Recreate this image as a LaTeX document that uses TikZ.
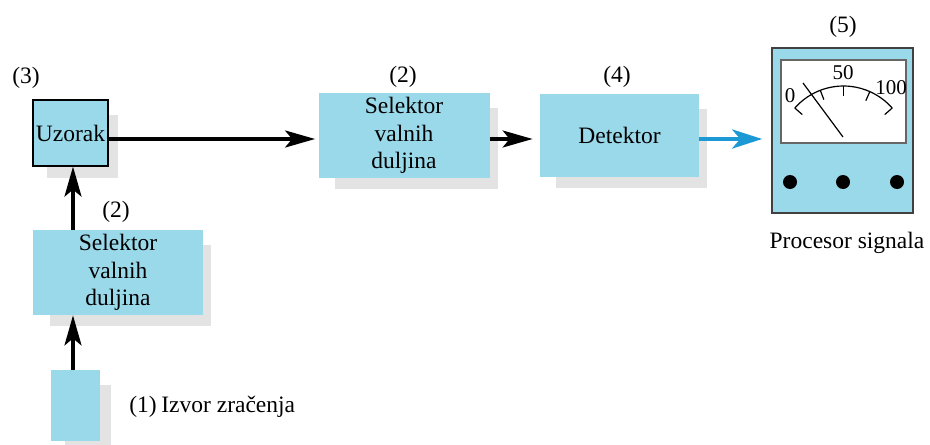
\documentclass[tikz,border=0pt]{standalone}
\usepackage{fontspec}
\setmainfont{Liberation Serif}
\usepackage{tikz}
\usetikzlibrary{calc}
\usetikzlibrary{arrows.meta}
\usetikzlibrary{shadows}
\definecolor{boxblue}{RGB}{154,217,234}
\definecolor{sigblue}{RGB}{28,152,212}

\begin{document}
\begin{tikzpicture}[x=0.5pt,y=-0.5pt,
  font=\fontsize{11.75}{13.75}\selectfont,
  blok/.style={fill=boxblue,inner sep=0pt,align=center,
    drop shadow={shadow xshift=6.5pt,shadow yshift=-7pt,shadow scale=.95,fill=black!11,opacity=1}},
  tok/.style={line width=1.6pt,-{Stealth[length=15pt,width=8.5pt,inset=3.5pt]}}]
\useasboundingbox (0,0) rectangle (930,444);

\node[blok,draw=black,line width=.6pt,minimum width=37.5pt,minimum height=33pt] (uz) at (70.5,133) {Uzorak};
\node[blok,minimum width=85pt,minimum height=42.5pt] (sel1) at (118,272.5) {Selektor\\valnih\\duljina};
\node[blok,minimum width=85.5pt,minimum height=42.5pt] (sel2) at (404,135.5) {Selektor\\valnih\\duljina};
\node[blok,minimum width=79.5pt,minimum height=41.5pt] (det) at (619.5,135.5) {Detektor};
\node[blok,minimum width=24.5pt,minimum height=35.5pt] (izv) at (75.5,405.5) {};
\node[fill=boxblue,draw=black!75,line width=.8pt,minimum width=70.5pt,minimum height=82.5pt] (mjer) at (842.5,130.5) {};

\node (n3) at (26,78) {(3)};
\node (n2a) at (116,212) {(2)};
\node (n2b) at (403,77) {(2)};
\node (n4) at (617,77) {(4)};
\node (n5) at (843,27) {(5)};
\node (n1) at (143,407) {(1)};
\node[anchor=west,inner sep=0pt] (izvlab) at (161,407) {Izvor zračenja};
\node (proc) at (847,243) {Procesor signala};

\def\rr{64.8}
\draw[fill=white,draw=black!60,line width=.8pt] (781,60) rectangle (906,143);
\coordinate (os) at (843.5,150.8);
\draw[line width=.6pt] ($(os)+(-138.7:\rr)$) arc[start angle=-138.7,end angle=-41.3,radius=\rr];
\foreach \a in {-138.7,-111,-90,-66,-41.3}
  \draw[line width=.6pt] ($(os)+(\a:\rr)$) -- ($(os)+(\a:\rr-10)$);
\draw[line width=.6pt] (803,83) -- (843,137);
\node[font=\fontsize{10.5}{12}\selectfont] (s0) at (790,96) {0};
\node[font=\fontsize{10.5}{12}\selectfont] (s50) at (843,73) {50};
\node[font=\fontsize{10.5}{12}\selectfont] (s100) at (891,88) {100};
\foreach \x in {790,843,897}
  \fill (\x,182) circle[radius=7];

\coordinate (red) at (0,139);
\coordinate (stup) at (73,0);
\draw[tok,shorten >=1.5pt] (uz.east |- red) -- (sel2.west |- red);
\draw[tok,shorten >=3.5pt] (sel2.east |- red) -- (det.west |- red);
\draw[sigblue,line width=2pt,-{Stealth[length=15pt,width=9.5pt,inset=4pt]},shorten >=4.5pt] (det.east |- red) -- (mjer.west |- red);
\draw[tok] (sel1.north -| stup) -- (uz.south -| stup);
\draw[tok] (izv.north -| stup) -- (sel1.south -| stup);

\end{tikzpicture}
\end{document}
